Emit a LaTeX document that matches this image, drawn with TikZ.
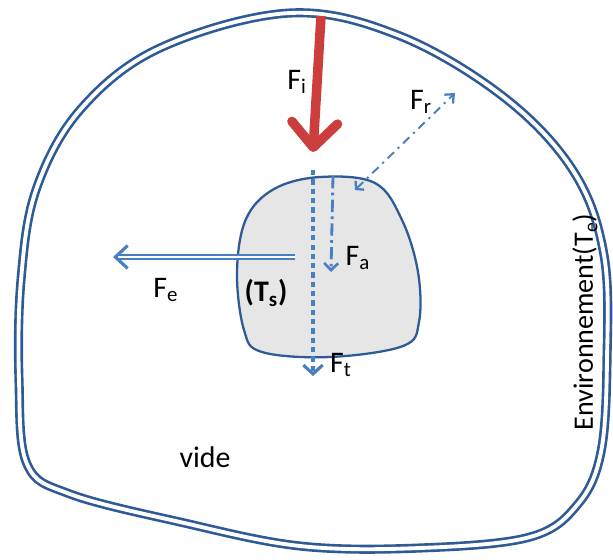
\documentclass[tikz,border=0pt]{standalone}
\usepackage{fontspec}
\setmainfont{Carlito}
\usepackage{xcolor}
\usetikzlibrary{arrows.meta}
\definecolor{envblue}{RGB}{46,90,150}
\definecolor{fluxblue}{RGB}{70,128,192}
\definecolor{fluxred}{RGB}{204,62,62}
\definecolor{bodygray}{RGB}{230,230,230}

\begin{document}
\begin{tikzpicture}[x=0.02cm,y=-0.02cm]
    \pgfmathsetmacro{\wallw}{1.5}
    \pgfmathsetmacro{\gap}{2.2}
    \tikzset{every node/.style={font=\fontsize{17}{20}\selectfont}}
    \tikzset{wall/.style={draw=envblue,line width=\wallw pt,double=white,double distance=\gap pt}}
    \tikzset{flux/.style={draw=fluxblue,line width=1.3pt}}
    \useasboundingbox (0,0) rectangle (613,559);
    % environment and body
    \draw[wall] plot[smooth cycle,tension=0.6] coordinates {(290,13) (400,36) (505,98) (574,172) (604,255) (607,360) (601,452) (578,504) (530,537) (420,548) (300,546) (180,522) (70,494) (27,464) (19,380) (21,280) (36,190) (80,110) (160,48)};
    \draw[envblue,line width=1.3pt,fill=bodygray] plot[smooth cycle,tension=0.6] coordinates {(274,189) (320,177) (375,183) (402,220) (418,272) (419,322) (403,346) (330,357) (262,352) (244,330) (237,272) (246,219)};
    \coordinate (ein) at (295,257);
    \coordinate (eout) at (113,257);
    \coordinate (iin) at (321,16);
    \coordinate (iout) at (313,152);
    \coordinate (tin) at (313,170);
    \coordinate (tout) at (313,376);
    \coordinate (ain) at (333,176);
    \coordinate (aout) at (331,272);
    \coordinate (rin) at (355,190);
    \coordinate (rout) at (455,93);
    \draw[flux,double=white,double distance=1.4pt,line width=1pt,-{Straight Barb[length=7pt,width=13pt,line width=1.8pt]}] (ein) -- (eout);
    \draw[flux,line width=2.8pt,dash pattern=on 3pt off 2.3pt,-{Straight Barb[length=5pt,width=11pt,line width=1.8pt]}] (tin) -- (tout);
    \draw[flux,line width=1.6pt,dash pattern=on 7pt off 2.5pt on 1.5pt off 2.5pt,-{Straight Barb[length=4pt,width=8pt,line width=1.5pt]}] (ain) -- (aout);
    \draw[flux,line width=1.1pt,dash pattern=on 5pt off 3pt on 1.2pt off 3pt,{Straight Barb[length=3pt,width=7pt,line width=1.3pt]}-{Straight Barb[length=4pt,width=7pt,line width=1.3pt]}] (rin) -- (rout);
    \draw[fluxred,line width=5.4pt,-{Straight Barb[length=14pt,width=26pt,line width=5.4pt,round]}] (iin) -- (iout);
    % labels
    \node (fi) at (297,82) {F\textsubscript{i}};
    \node (fr) at (421,102) {F\textsubscript{r}};
    \node (fa) at (358,258) {F\textsubscript{a}};
    \node (fe) at (166,290) {F\textsubscript{e}};
    \node (ft) at (341,365) {F\textsubscript{t}};
    \node (ts) at (266,293) {\bfseries(T\textsubscript{s})};
    \node (vide) at (205,457) {vide};
    \node[rotate=90,font=\fontsize{16}{19}\selectfont] (env) at (585,322) {Environnement(T\textsubscript{e})};
\end{tikzpicture}
\end{document}
